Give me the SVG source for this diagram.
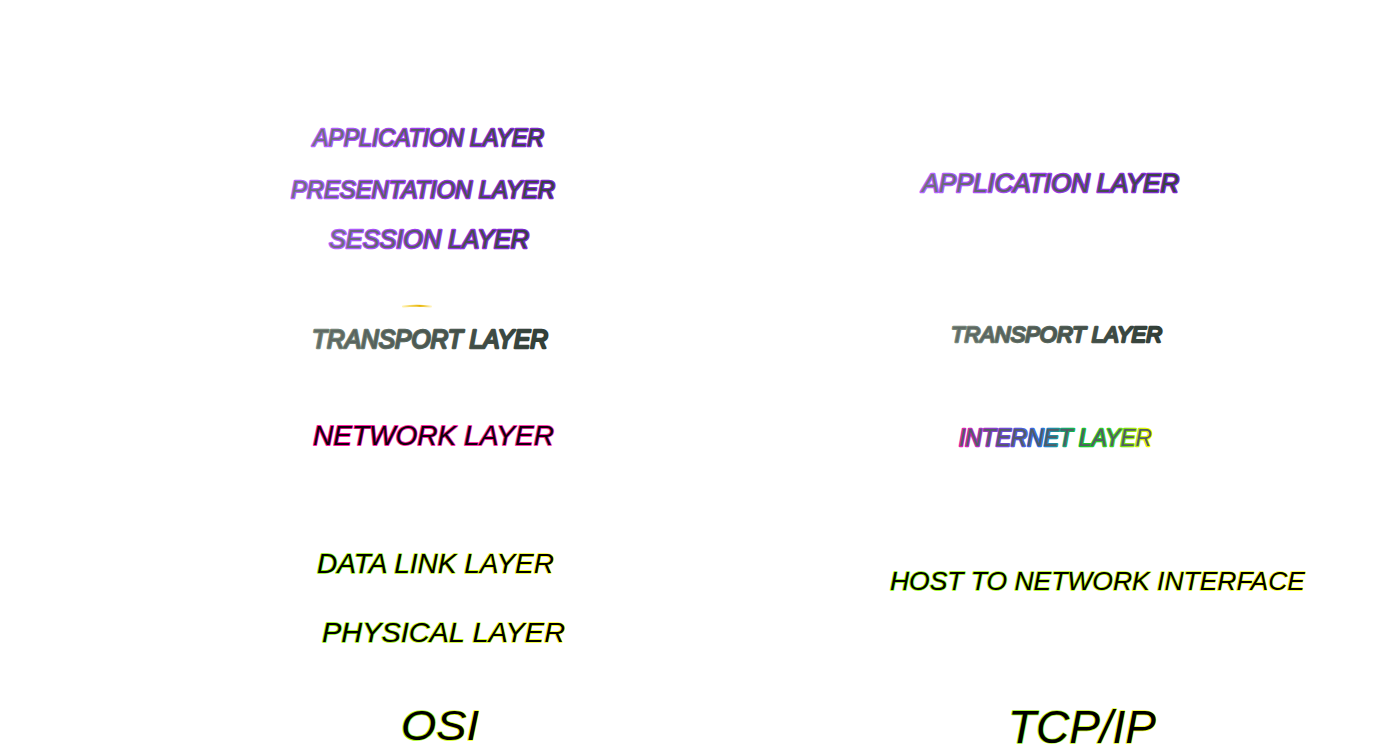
<svg xmlns="http://www.w3.org/2000/svg" width="1400" height="753" viewBox="0 0 1400 753">
<defs>
<linearGradient id="gPurpFill" x1="0" y1="0" x2="1" y2="0"><stop offset="0" stop-color="#707080"/><stop offset="0.5" stop-color="#50585c"/><stop offset="1" stop-color="#34423a"/></linearGradient>
<linearGradient id="gPurpStroke" x1="0" y1="0" x2="1" y2="0"><stop offset="0" stop-color="#b466ff"/><stop offset="0.5" stop-color="#9a38ea"/><stop offset="1" stop-color="#7a28c8"/></linearGradient>
<linearGradient id="gGrayFill" x1="0" y1="0" x2="1" y2="0"><stop offset="0" stop-color="#626c68"/><stop offset="1" stop-color="#323e38"/></linearGradient>
<linearGradient id="gGrayStroke" x1="0" y1="0" x2="1" y2="0"><stop offset="0" stop-color="#7a8a7c"/><stop offset="1" stop-color="#2f3d35"/></linearGradient>
<linearGradient id="gYelStroke" x1="0" y1="0" x2="1" y2="0"><stop offset="0" stop-color="#8cf000"/><stop offset="1" stop-color="#ffff20"/></linearGradient>
<linearGradient id="gNetStroke" x1="0" y1="0" x2="1" y2="0"><stop offset="0" stop-color="#ff1aa0"/><stop offset="1" stop-color="#ff40b0"/></linearGradient>
<linearGradient id="gInetStroke" x1="0" y1="0" x2="1" y2="0"><stop offset="0" stop-color="#e020a8"/><stop offset="0.2" stop-color="#8040d0"/><stop offset="0.42" stop-color="#2a70e0"/><stop offset="0.62" stop-color="#10c030"/><stop offset="0.8" stop-color="#40d020"/><stop offset="1" stop-color="#ffff00"/></linearGradient>
<linearGradient id="gMark" x1="0" y1="0" x2="1" y2="0"><stop offset="0" stop-color="#fff2b0"/><stop offset="0.6" stop-color="#e8b400"/><stop offset="1" stop-color="#fff4c0"/></linearGradient>
</defs>
<style>
text{font-family:"Liberation Sans",Arial,sans-serif;font-style:italic;paint-order:stroke;stroke-linejoin:round}
.purp{fill:url(#gPurpFill);stroke:url(#gPurpStroke);stroke-width:2.6}
.gray{fill:url(#gGrayFill);stroke:url(#gGrayStroke);stroke-width:2.4}
.net{fill:#12000a;stroke:url(#gNetStroke);stroke-width:1.8}
.blk{fill:#000;stroke:url(#gYelStroke);stroke-width:1.6}
.inet{fill:#525c64;stroke:url(#gInetStroke);stroke-width:2.4}
</style>
<rect width="1400" height="753" fill="#fff"/>
<g id="osi">
<g id="osi-application"><text class="purp" x="313" y="146" font-size="24" textLength="231" lengthAdjust="spacingAndGlyphs">APPLICATION LAYER</text></g>
<g id="osi-presentation"><text class="purp" x="291" y="198" font-size="24" textLength="264" lengthAdjust="spacingAndGlyphs">PRESENTATION LAYER</text></g>
<g id="osi-session"><text class="purp" x="329" y="248" font-size="25" textLength="200" lengthAdjust="spacingAndGlyphs">SESSION LAYER</text></g>
<g id="mark"><path d="M403,306.5 Q416,305 431,306.5" fill="none" stroke="url(#gMark)" stroke-width="2" stroke-linecap="round"/></g>
<g id="osi-transport"><text class="gray" x="312" y="348" font-size="25" textLength="236" lengthAdjust="spacingAndGlyphs">TRANSPORT LAYER</text></g>
<g id="osi-network"><text class="net" x="313" y="445" font-size="28" textLength="241" lengthAdjust="spacingAndGlyphs">NETWORK LAYER</text></g>
<g id="osi-datalink"><text class="blk" x="317" y="573" font-size="28" textLength="237" lengthAdjust="spacingAndGlyphs">DATA LINK LAYER</text></g>
<g id="osi-physical"><text class="blk" x="322" y="642" font-size="28" textLength="243" lengthAdjust="spacingAndGlyphs">PHYSICAL LAYER</text></g>
<g id="osi-title"><text class="blk" x="401" y="740" font-size="43" textLength="78" lengthAdjust="spacingAndGlyphs">OSI</text></g>
</g>
<g id="tcpip">
<g id="tcp-application"><text class="purp" x="922" y="192" font-size="25" textLength="257" lengthAdjust="spacingAndGlyphs">APPLICATION LAYER</text></g>
<g id="tcp-transport"><text class="gray" x="951" y="342" font-size="22" textLength="211" lengthAdjust="spacingAndGlyphs">TRANSPORT LAYER</text></g>
<g id="tcp-internet"><text class="inet" x="959" y="446" font-size="23" textLength="193" lengthAdjust="spacingAndGlyphs">INTERNET LAYER</text></g>
<g id="tcp-host"><text class="blk" x="890" y="590" font-size="26" textLength="415" lengthAdjust="spacingAndGlyphs">HOST TO NETWORK INTERFACE</text></g>
<g id="tcp-title"><text class="blk" x="1008" y="743" font-size="47" textLength="148" lengthAdjust="spacingAndGlyphs">TCP/IP</text></g>
</g>
</svg>
